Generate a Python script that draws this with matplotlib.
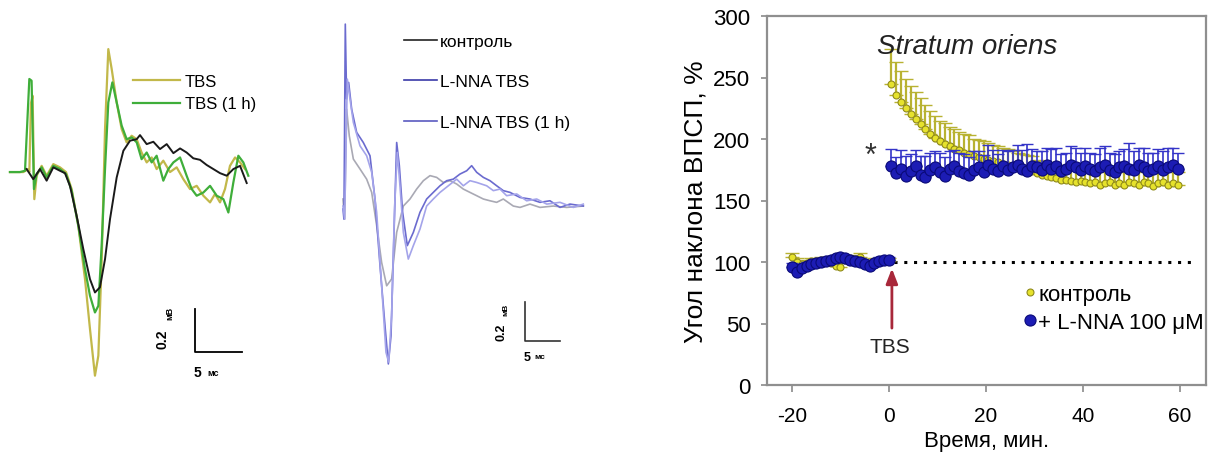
import numpy as np
import matplotlib
matplotlib.use("Agg")
import matplotlib.pyplot as plt

plt.rcParams['font.family'] = ['Liberation Sans', 'DejaVu Sans']
plt.rcParams['axes.unicode_minus'] = False

# ---- field potentials, stratum oriens (ms, mV) ----
ctrl_t = [1.77, 2.48, 3.19, 3.90, 4.61, 5.32, 5.85, 6.38, 7.09, 7.80, 8.51, 9.04, 9.57,
          10.11, 10.64, 11.35, 12.06, 12.77, 13.48, 13.83, 14.54, 15.25, 15.96, 16.67,
          17.38, 18.09, 18.79, 19.50, 20.21, 20.92, 21.63, 22.34, 23.05, 23.76, 24.47, 25.18]
ctrl_v = [0.014, -0.033, 0.014, -0.040, 0.022, 0.006, -0.005, -0.064, -0.203, -0.358,
          -0.498, -0.560, -0.536, -0.405, -0.219, -0.025, 0.099, 0.146, 0.153, 0.172,
          0.130, 0.141, 0.107, 0.130, 0.088, 0.110, 0.091, 0.064, 0.057, 0.033, 0.014,
          -0.005, -0.017, 0.014, 0.029, -0.051]

tbs_t = [0.0, 1.42, 1.95, 2.06, 2.23, 2.41, 2.59, 2.84, 3.37, 3.90, 4.61, 5.32, 5.96, 6.56,
         7.27, 7.98, 8.51, 9.04, 9.40, 9.75, 10.11, 10.46, 10.82, 11.35, 11.88, 12.41,
         12.94, 13.48, 14.00, 14.54, 15.07, 15.60, 16.31, 17.02, 17.73, 18.44, 19.15,
         19.86, 20.57, 21.28, 21.81, 22.34, 22.87, 23.40, 23.94, 24.47, 25.00]
tbs_v = [0.0, 0.0, 0.014, 0.0, 0.32, 0.355, -0.126, -0.017, 0.029, -0.017, 0.037, 0.022,
         0.0, -0.079, -0.25, -0.498, -0.73, -0.947, -0.854, -0.42, 0.2, 0.572, 0.479,
         0.324, 0.2, 0.138, 0.169, 0.153, 0.091, 0.045, 0.068, 0.014, 0.053, 0.0, 0.022,
         -0.033, -0.079, -0.064, -0.11, -0.141, -0.102, -0.141, -0.079, 0.029, 0.068,
         0.045, 0.014]

tbs1h_t = [0.0, 1.06, 1.60, 2.06, 2.30, 2.55, 2.84, 3.37, 3.90, 4.61, 5.32, 5.96, 6.56,
           7.27, 7.98, 8.51, 9.04, 9.40, 9.75, 10.11, 10.46, 10.89, 11.35, 11.88, 12.41,
           12.94, 13.48, 14.00, 14.54, 15.07, 15.60, 16.31, 16.84, 17.38, 18.09, 18.79,
           19.33, 19.86, 20.57, 21.28, 21.99, 22.70, 23.23, 23.76, 24.29, 24.82, 25.35]
tbs1h_v = [0.0, 0.0, 0.006, 0.433, 0.425, -0.079, -0.009, 0.022, -0.025, 0.029, 0.014,
           -0.009, -0.087, -0.25, -0.451, -0.575, -0.653, -0.622, -0.343, 0.014, 0.324,
           0.417, 0.324, 0.216, 0.153, 0.161, 0.138, 0.06, 0.091, 0.045, 0.076, -0.04,
           0.014, 0.045, 0.068, -0.017, -0.079, -0.11, -0.095, -0.064, -0.11, -0.126,
           -0.188, -0.048, 0.076, 0.045, -0.017]

# ---- field potentials with L-NNA (ms, mV) ----
k_t = [0.0, 0.24, 0.52, 0.90, 1.48, 2.43, 3.38, 4.10, 4.81, 5.52, 6.24, 6.95, 7.67, 8.62,
       9.57, 10.52, 11.48, 12.43, 13.38, 14.33, 15.29, 16.24, 17.19, 18.14, 19.10, 20.05,
       21.00, 21.95, 22.90, 24.33, 25.29, 26.71, 28.14, 30.05, 31.95, 34.33]
k_v = [0.036, -0.067, 0.497, 0.36, 0.241, 0.19, 0.138, 0.07, -0.10, -0.289, -0.409,
       -0.374, -0.135, 0.0, 0.036, 0.087, 0.13, 0.156, 0.147, 0.121, 0.13, 0.113, 0.087,
       0.07, 0.053, 0.036, 0.027, 0.019, 0.036, 0.0, -0.007, 0.01, -0.007, 0.0, -0.007, 0.0]

lnna_t = [0.0, 0.14, 0.33, 0.52, 0.81, 1.24, 1.95, 2.90, 3.86, 4.57, 5.29, 6.00, 6.48,
          6.86, 7.29, 7.67, 8.05, 8.52, 9.19, 10.05, 11.00, 11.95, 12.90, 13.86, 14.81,
          15.76, 16.71, 17.67, 18.38, 19.10, 20.05, 21.00, 21.95, 22.90, 23.86, 25.29,
          26.71, 28.14, 29.57, 31.00, 32.43, 34.33]
lnna_v = [-0.015, -0.067, 0.933, 0.549, 0.634, 0.497, 0.378, 0.326, 0.258, 0.036, -0.306,
          -0.614, -0.81, -0.665, -0.135, 0.326, 0.207, -0.032, -0.203, -0.135, -0.032,
          0.036, 0.07, 0.104, 0.13, 0.138, 0.164, 0.181, 0.207, 0.173, 0.147, 0.13, 0.104,
          0.079, 0.07, 0.044, 0.036, 0.019, 0.027, -0.007, 0.01, 0.0]

lnna1h_t = [0.0, 0.24, 0.62, 1.00, 1.48, 2.43, 3.38, 4.10, 4.81, 5.52, 6.14, 6.52, 6.95,
            7.38, 7.76, 8.14, 8.62, 9.33, 10.05, 11.00, 11.95, 12.90, 13.86, 15.05, 16.24,
            17.19, 18.14, 19.10, 20.52, 21.48, 22.43, 23.38, 24.81, 26.24, 27.67, 29.10,
            31.00, 32.90, 34.33]
lnna1h_v = [0.0, -0.067, 0.651, 0.549, 0.429, 0.309, 0.258, 0.173, -0.032, -0.409, -0.75,
            -0.80, -0.562, 0.0, 0.275, 0.104, -0.135, -0.272, -0.203, -0.118, 0.0, 0.036,
            0.07, 0.104, 0.138, 0.104, 0.13, 0.121, 0.104, 0.079, 0.087, 0.053, 0.062,
            0.027, 0.036, 0.01, 0.019, -0.007, 0.01]

# ---- fEPSP slope, % of baseline ----
t_pre = np.arange(-20, 1)
t_post = np.arange(0.5, 60.5, 1)

ctrl_pre = [104, 100, 98, 99, 101, 100, 102, 101, 99, 97, 96, 102, 103, 101, 104, 100,
            99, 101, 100, 102, 101]
ctrl_pre_err = [3, 3, 2, 3, 2, 3, 2, 3, 3, 2, 3, 2, 3, 2, 3, 2, 3, 2, 3, 2, 2]
ctrl_post = [245, 236, 230, 225, 220, 216, 212, 208, 204, 201, 198, 196, 194, 192, 191,
             189, 188, 186, 185, 184, 183, 182, 181, 180, 179, 178, 177, 176, 175, 174,
             172, 171, 170, 169, 168, 167, 167, 166, 165, 166, 165, 164, 165, 163, 164,
             165, 163, 164, 163, 165, 164, 163, 165, 164, 162, 164, 165, 163, 164, 163]
ctrl_post_err = [28, 27, 25, 24, 23, 22, 21, 20, 19, 18, 17, 17, 16, 16, 15, 15, 15, 14,
                 14, 14, 14, 13, 13, 13, 13, 12, 12, 12, 12, 12, 11, 11, 11, 11, 11, 11,
                 11, 10, 10, 10, 10, 10, 10, 10, 10, 10, 10, 10, 10, 10, 10, 10, 10, 10,
                 10, 10, 10, 10, 10, 10]

lnna_pre = [96, 92, 95, 97, 98, 99, 100, 101, 102, 103, 104, 103, 102, 101, 100, 98, 97,
            99, 101, 102, 102]
lnna_pre_err = [3, 4, 3, 3, 2, 3, 3, 2, 3, 3, 2, 3, 2, 3, 3, 2, 3, 2, 3, 2, 2]
lnna_post = [178, 172, 176, 170, 174, 178, 171, 169, 175, 177, 173, 170, 176, 178, 174,
             172, 171, 175, 177, 173, 179, 176, 174, 178, 175, 177, 179, 176, 174, 178,
             177, 175, 179, 176, 178, 174, 176, 179, 177, 175, 178, 176, 174, 177, 179,
             175, 173, 177, 178, 176, 175, 179, 177, 174, 176, 178, 175, 177, 179, 176]
lnna_post_err = [14, 13, 15, 16, 14, 13, 15, 17, 14, 13, 16, 15, 14, 13, 15, 16, 14, 15,
                 13, 14, 16, 15, 14, 13, 15, 14, 16, 15, 22, 14, 13, 15, 14, 16, 15, 14,
                 13, 15, 16, 14, 15, 13, 14, 16, 15, 14, 15, 13, 14, 21, 15, 14, 16, 15,
                 13, 14, 15, 16, 14, 13]

fig = plt.figure(figsize=(12.1, 4.56), dpi=100)

# left traces: 9.4 px per ms, 215 px per mV
ax1 = fig.add_axes([0, 0, 280 / 1210, 1])
ax1.set_xlim(-1.06, 28.72)
ax1.set_ylim(-1.316, 0.805)
ax1.axis('off')
ax1.plot(tbs_t, tbs_v, color='#c2b84a', lw=1.6, label='TBS')
ax1.plot(tbs1h_t, tbs1h_v, color='#3fae3a', lw=1.6, label='TBS (1 h)')
ax1.plot(ctrl_t, ctrl_v, color='#1a1a1a', lw=1.4)
ax1.plot([19.7, 19.7, 24.7], [-0.637, -0.837, -0.837], color='black', lw=1.3)
ax1.text(16.2, -0.772, '0.2', rotation=90, ha='center', va='center', fontsize=10, fontweight='bold')
ax1.text(17.0, -0.652, 'мВ', rotation=90, ha='center', va='center', fontsize=6.5, fontweight='bold')
ax1.text(19.9, -0.93, '5', ha='center', va='center', fontsize=10, fontweight='bold')
ax1.text(21.0, -0.93, 'мс', ha='left', va='center', fontsize=6.5, fontweight='bold')
ax1.legend(loc='upper left', bbox_to_anchor=(133 / 1210, 1 - 75 / 456), bbox_transform=fig.transFigure,
           frameon=False, fontsize=12, handlelength=2.8, handletextpad=0.3, labelspacing=0.45,
           borderpad=0, borderaxespad=0)

# middle traces: 7 px per ms, 195 px per mV
ax2 = fig.add_axes([300 / 1210, 0, 320 / 1210, 1])
ax2.set_xlim(-6.14, 39.57)
ax2.set_ylim(-1.277, 1.062)
ax2.axis('off')
ax2.plot(k_t, k_v, color='#a9a9b4', lw=1.2, label='контроль')
ax2.plot(lnna_t, lnna_v, color='#6b6bcf', lw=1.2, label='L-NNA TBS')
ax2.plot(lnna1h_t, lnna1h_v, color='#a4a4ea', lw=1.2, label='L-NNA TBS (1 h)')
ax2.plot([26.0, 26.0, 31.0], [-0.492, -0.692, -0.692], color='#333333', lw=1.2)
ax2.text(22.7, -0.641, '0.2', rotation=90, ha='center', va='center', fontsize=9, fontweight='bold')
ax2.text(23.3, -0.53, 'мВ', rotation=90, ha='center', va='center', fontsize=6, fontweight='bold')
ax2.text(26.3, -0.774, '5', ha='center', va='center', fontsize=9, fontweight='bold')
ax2.text(27.4, -0.774, 'мс', ha='left', va='center', fontsize=6, fontweight='bold')
leg2 = ax2.legend(loc='upper left', bbox_to_anchor=(404 / 1210, 1 - 35 / 456), bbox_transform=fig.transFigure,
                  frameon=False, fontsize=12.5, handlelength=1.9, handletextpad=0.15, labelspacing=1.45,
                  borderpad=0, borderaxespad=0)
leg2.legend_handles[0].set_color('#222222')
leg2.legend_handles[1].set_color('#3a3aa8')
leg2.legend_handles[2].set_color('#5a5ac0')

# right: fEPSP slope time course
ax3 = fig.add_axes([767 / 1210, 70 / 456, 439 / 1210, 369 / 456])
ax3.set_xlim(-25.15, 65.36)
ax3.set_ylim(0, 300)

yel_face, yel_edge = '#e6e22c', '#8f8a1c'
blue_face, blue_edge = '#1c1cb4', '#0a0a78'

ax3.plot([1.0, 63.5], [100, 100], color='black', ls=(0, (1, 2.2)), lw=2.2, zorder=1)

ax3.errorbar(t_pre, ctrl_pre, yerr=[np.zeros(len(ctrl_pre)), ctrl_pre_err], fmt='none',
             ecolor='#b8b232', elinewidth=1.6, capsize=5, zorder=2)
ax3.errorbar(t_post, ctrl_post, yerr=[np.zeros(len(ctrl_post)), ctrl_post_err], fmt='none',
             ecolor='#b8b232', elinewidth=1.6, capsize=5, zorder=2)
ax3.plot(t_pre, ctrl_pre, 'o', ms=5, mfc=yel_face, mec=yel_edge, mew=0.8, zorder=3)
ax3.plot(t_post, ctrl_post, 'o', ms=5, mfc=yel_face, mec=yel_edge, mew=0.8, zorder=3,
         label='контроль')

ax3.errorbar(t_pre, lnna_pre, yerr=[np.zeros(len(lnna_pre)), lnna_pre_err], fmt='none',
             ecolor='#3434c8', elinewidth=1.2, capsize=4.5, zorder=4)
ax3.errorbar(t_post, lnna_post, yerr=[np.zeros(len(lnna_post)), lnna_post_err], fmt='none',
             ecolor='#3434c8', elinewidth=1.2, capsize=4.5, zorder=4)
ax3.plot(t_pre, lnna_pre, 'o', ms=8, mfc=blue_face, mec=blue_edge, mew=0.8, zorder=5)
ax3.plot(t_post, lnna_post, 'o', ms=8, mfc=blue_face, mec=blue_edge, mew=0.8, zorder=5,
         label='+ L-NNA 100 μM')

ax3.annotate('', xy=(0.6, 97), xytext=(0.6, 44),
             arrowprops=dict(arrowstyle='-|>,head_width=0.35,head_length=0.9', color='#a8283a', lw=2))
ax3.text(0.2, 31, 'TBS', ha='center', va='center', fontsize=15, color='#222222')
ax3.text(-3.9, 186, '*', ha='center', va='center', fontsize=22, color='#333333')
ax3.text(-2.4, 276, 'Stratum oriens', ha='left', va='center', fontsize=20, style='italic', color='#222222')

ax3.set_xticks([-20, 0, 20, 40, 60])
ax3.set_yticks([0, 50, 100, 150, 200, 250, 300])
ax3.tick_params(axis='y', length=4, width=1.2, color='#8a8a8a', pad=8, labelsize=16)
ax3.tick_params(axis='x', length=5, width=1.2, color='#8a8a8a', pad=10, labelsize=15)
for s in ax3.spines.values():
    s.set_color('#8f8f8f')
    s.set_linewidth(1.6)
ax3.set_xlabel('Время, мин.', fontsize=16, labelpad=4)
ax3.set_ylabel('Угол наклона ВПСП, %', fontsize=19, labelpad=4)

ax3.legend(loc='upper left', bbox_to_anchor=(1024 / 1210, 1 - 285 / 456), bbox_transform=fig.transFigure,
           frameon=False, fontsize=16, handlelength=0.5, handletextpad=0.15, labelspacing=0.3,
           borderpad=0, borderaxespad=0)

fig.savefig('out.png', dpi=100)
